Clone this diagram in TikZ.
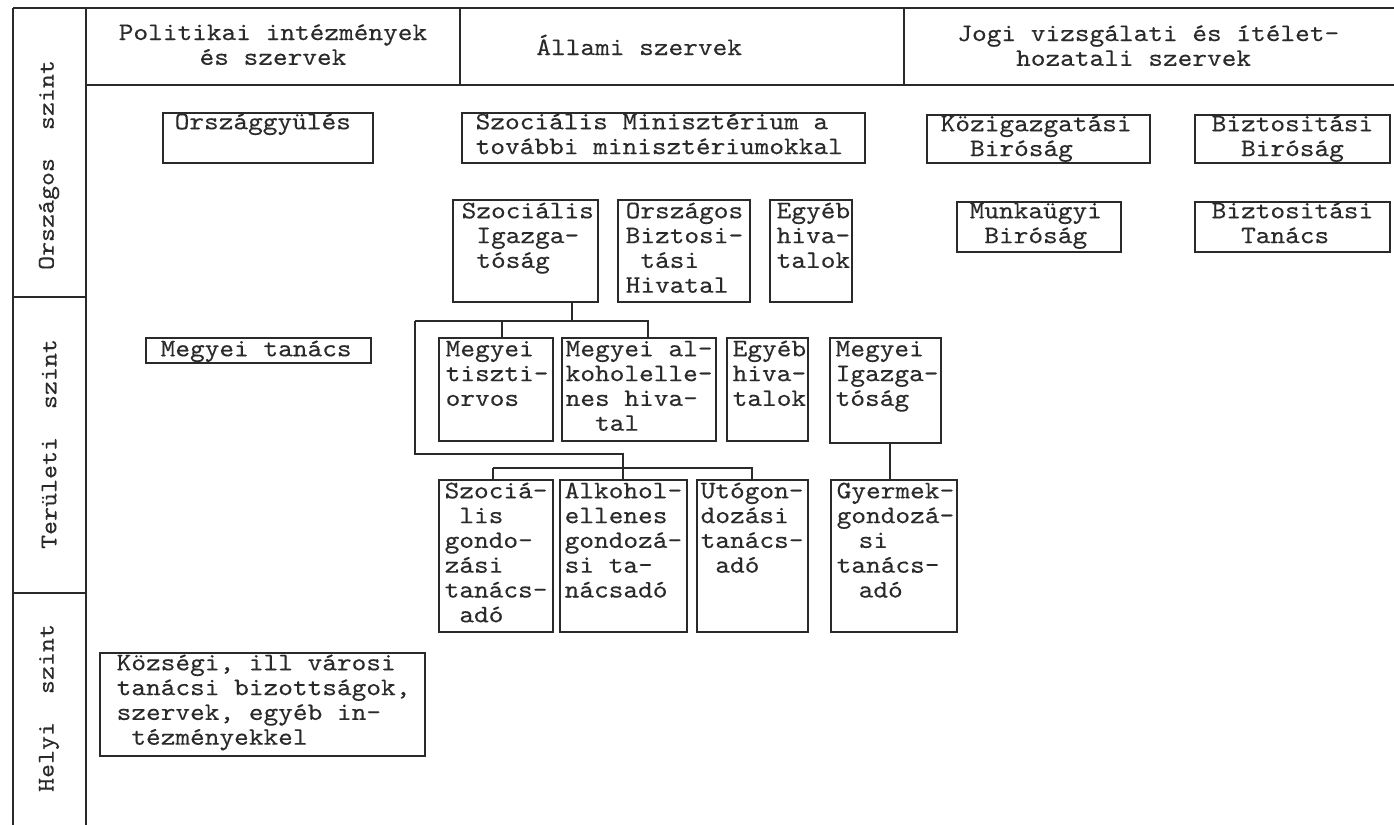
\documentclass[tikz,border=0pt]{standalone}
\usepackage{fontspec}
\usetikzlibrary{fit}

% typewriter face, widened and slightly darkened like a pica typewriter
\newfontfamily\twfont{lmmono10-regular.otf}[FakeStretch=1.11, FakeBold=0.25]
\newcommand\twtext{\twfont\fontsize{12.6pt}{12.4pt}\selectfont}
\newcommand\ind{\hphantom{x}}
\newcommand\hind{\setbox0\hbox{x}\kern.5\wd0 }
% stacked lines, left aligned / centred, baseline = first line
\newcommand\ltext[1]{\vtop{\twtext\baselineskip=12.4pt\lineskiplimit=-20pt\halign{##\hfil\cr#1\crcr}}}
\newcommand\ctext[1]{\vtop{\twtext\baselineskip=12.4pt\lineskiplimit=-20pt\halign{\hfil##\hfil\cr#1\crcr}}}

\definecolor{ink}{HTML}{2A2A2A}

\tikzset{
  rule/.style={draw=ink, line width=0.8pt},
  orgbox/.style={draw=ink, line width=0.7pt, inner sep=0pt},
  boxtext/.style={anchor=base west, inner sep=0pt, text=ink},
  head/.style={inner sep=0pt, text=ink},
  lab/.style={rotate=90, inner sep=0pt, text=ink, font=\twfont\fontsize{12pt}{14pt}\selectfont},
  link/.style={draw=ink, line width=0.7pt}
}

% box: name, x1, y1, x2, y2, left padding, first baseline, lines
\newcommand\obox[8]{%
  \node[orgbox, fit={(#2,#3) (#4,#5)}] (#1) {};
  \node[boxtext] (#1-t) at ([xshift=#6*0.5pt, yshift=-#7*0.5pt]#1.north west) {\ltext{#8}};}

\begin{document}
\begin{tikzpicture}[x=0.5pt, y=-0.5pt]
\useasboundingbox (0,0) rectangle (1394,825);

% frame of the table
\draw[rule] (13,8) -- (1394,8);
\draw[rule] (13,8) -- (13,825);
\draw[rule] (86,8) -- (86,825);
\draw[rule] (86,85) -- (1394,85);
\draw[rule] (460,8) -- (460,85);
\draw[rule] (904,8) -- (904,85);
\draw[rule] (13,297) -- (86,297);
\draw[rule] (13,593) -- (86,593);

% column heads
\node[head, anchor=base] (h-pol) at (273,40) {\ctext{Politikai intézmények\cr és szervek}};
\node[head, anchor=base west] (h-all) at (536,55) {\ltext{Állami szervek}};
\node[head, anchor=base west] (h-jog) at (957,41) {\ltext{Jogi vizsgálati és ítélet-\cr\ind\ind\ind\ind hozatali szervek}};

% level labels
\node[lab] (lv-orsz) at (49,165) {Országos~~szint};
\node[lab] (lv-ter) at (49,444) {Területi~~szint};
\node[lab] (lv-hely) at (49,708) {Helyi~~szint};

% national level
\obox{orszgy}{163}{113}{373}{163}{12}{17}{Országgyülés}
\obox{szocmin}{462}{113}{865}{163}{14}{17}{Szociális Minisztérium a\cr további minisztériumokkal}
\obox{kozig}{927}{115}{1150}{163}{14}{17}{Közigazgatási\cr\ind\ind Biróság}
\obox{bizbir}{1195}{115}{1390}{163}{17}{17}{Biztositási\cr\ind\ind Biróság}
\obox{szocig}{453}{200}{598}{302}{9}{19}{Szociális\cr\ind Igazga-\cr\ind tóság}
\obox{orszbiz}{618}{200}{750}{302}{8}{19}{Országos\cr Biztosi-\cr\ind tási\cr Hivatal}
\obox{egyeb1}{770}{200}{852}{302}{7}{19}{Egyéb\cr hiva-\cr talok}
\obox{munka}{957}{202}{1121}{252}{13}{17}{Munkaügyi\cr\ind Biróság}
\obox{biztan}{1195}{202}{1390}{252}{17}{17}{Biztositási\cr\ind\ind Tanács}

% regional level
\obox{megytan}{146}{338}{371}{363}{15}{19}{Megyei tanács}
\obox{tiszti}{439}{338}{553}{441}{7}{19}{Megyei\cr tiszti-\cr orvos}
\obox{alkhiv}{562}{338}{716}{441}{4}{19}{Megyei al-\cr koholelle-\cr nes hiva-\cr\ind\ind tal}
\obox{egyeb2}{727}{338}{808}{441}{6}{19}{Egyéb\cr hiva-\cr talok}
\obox{megyig}{830}{338}{941}{443}{6}{19}{Megyei\cr Igazga-\cr tóság}
\obox{szocgond}{439}{480}{553}{632}{6}{19}{Szociá-\cr\ind lis\cr gondo-\cr zási\cr tanács-\cr\ind adó}
\obox{alkgond}{560}{480}{687}{632}{5}{19}{Alkohol-\cr ellenes\cr gondozá-\cr si ta-\cr nácsadó}
\obox{utogond}{697}{480}{808}{632}{4}{19}{Utógon-\cr dozási\cr tanács-\cr\ind adó}
\obox{gyermek}{831}{480}{957}{632}{6}{19}{Gyermek-\cr gondozá-\cr\ind\hind si\cr tanács-\cr\ind\hind adó}

% local level
\obox{kozseg}{100}{653}{425}{756}{17}{18}{Községi, ill városi\cr tanácsi bizottságok,\cr szervek, egyéb in-\cr\ind tézményekkel}

% branching points of the tree
\coordinate (j1) at (572,321);
\coordinate (b1l) at (415,321);
\coordinate (b1t) at (502,321);
\coordinate (b1r) at (648,321);
\coordinate (bl) at (415,454);
\coordinate (bm) at (623,454);
\coordinate (b2l) at (493,468);
\coordinate (b2r) at (752,468);
\coordinate (g1) at (890,460);

% connectors
\draw[link] (szocig.south -| j1) -- (j1);
\draw[link] (b1l) -- (b1r) -- (alkhiv.north -| b1r);
\draw[link] (b1t) -- (tiszti.north -| b1t);
\draw[link] (b1l) -- (bl) -- (bm) -- (alkgond.north -| bm);
\draw[link] (b2l) -- (b2r) -- (utogond.north -| b2r);
\draw[link] (b2l) -- (szocgond.north -| b2l);
\draw[link] (megyig.south -| g1) -- (gyermek.north -| g1);
\end{tikzpicture}
\end{document}
